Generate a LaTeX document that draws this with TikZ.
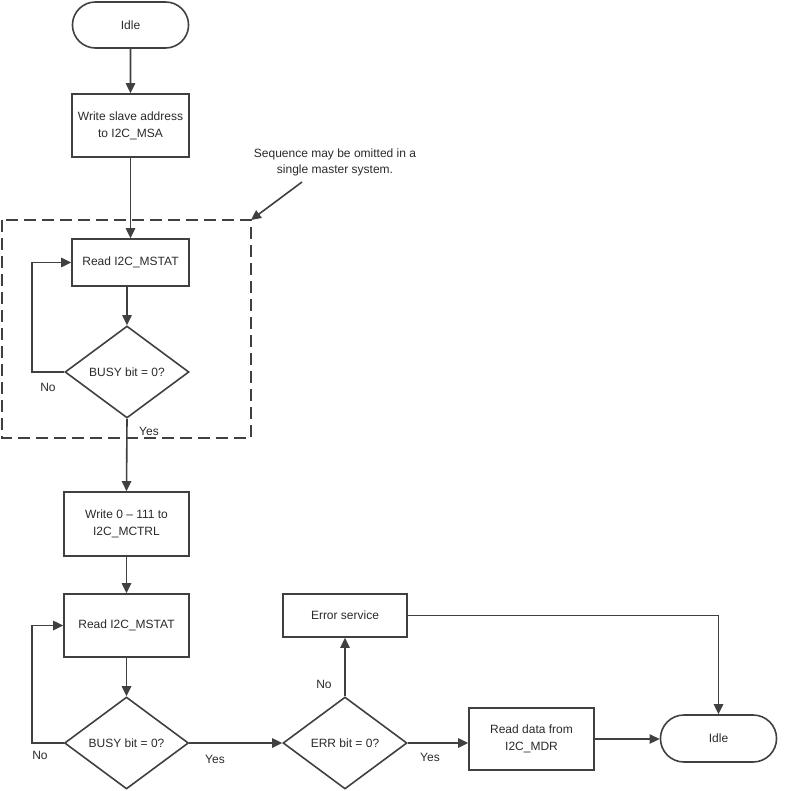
\documentclass[tikz,border=0pt]{standalone}
\usepackage{fontspec}
\setmainfont{Liberation Sans}
\usetikzlibrary{shapes.geometric, shapes.misc, arrows.meta}

\definecolor{linegray}{HTML}{404040}
\definecolor{textgray}{HTML}{2A2A2A}

\begin{document}
\begin{tikzpicture}[
    x=0.75pt, y=-0.75pt,
    font=\fontsize{9}{12.75}\selectfont, text=textgray,
    block/.style={draw=linegray, line width=1.2pt, rectangle, align=center, minimum width=93.75pt, minimum height=47.25pt, inner sep=2pt},
    decision/.style={draw=linegray, line width=1.2pt, diamond, aspect=1.35, minimum width=93pt, minimum height=69pt, inner sep=0pt},
    term/.style={draw=linegray, line width=1.2pt, rounded rectangle, minimum width=93.75pt, minimum height=34.5pt},
    lbl/.style={inner sep=1pt},
    arrow/.style={draw=linegray, line width=1.2pt, -{Triangle[length=7.5pt, width=7pt]}},
    dashedbox/.style={draw=linegray, line width=1.2pt, dash pattern=on 9pt off 4.5pt}
]
\useasboundingbox (0,0) rectangle (784,791);

% first part
\node[term] (idle1) at (130.5,25) {Idle};
\node[block, minimum width=87.75pt] (msa) at (130.5,125.5) {Write slave address\\to I2C\_MSA};
\node[block, minimum width=87.75pt, minimum height=35.25pt] (rd1) at (130.5,262.5) {Read I2C\_MSTAT};
\node[decision] (busy1) at (127,372) {BUSY bit = 0?};

% second part
\node[block, minimum height=48pt] (ctrl) at (126.5,524) {Write 0 -- 111 to\\I2C\_MCTRL};
\node[block] (rd2) at (126.5,625.5) {Read I2C\_MSTAT};
\node[decision] (busy2) at (126.5,743) {BUSY bit = 0?};
\node[decision] (err) at (345,743) {ERR bit = 0?};
\node[block, minimum width=93pt, minimum height=32.25pt] (errsvc) at (345,615.5) {Error service};
\node[block, minimum height=46.5pt] (mdr) at (531.5,739) {Read data from\\I2C\_MDR};
\node[term, minimum height=35.25pt] (idle2) at (718.5,738.5) {Idle};

% note
\node[align=center, font=\fontsize{9}{11.5}\selectfont] (note) at (335,162.5) {Sequence may be omitted in a\\single master system.};
\coordinate (ntail) at (302,182);
\coordinate (dcorner) at (251,220);
\draw[dashedbox] (2,220) rectangle (dcorner |- 0,438);

% labels
\node[lbl] (no1) at (48,387) {No};
\node[lbl] (yes1) at (149,431) {Yes};
\node[lbl] (no2) at (40,755) {No};
\node[lbl] (yes2) at (215,759) {Yes};
\node[lbl] (no3) at (324,684) {No};
\node[lbl] (yes3) at (430,757) {Yes};

% connectors
\draw[arrow] (idle1) -- (msa);
\draw[arrow] (msa) -- (rd1);
\draw[arrow] (busy1.north |- rd1.south) -- (busy1.north);
\draw[arrow] (busy1.west) -- ++(-32,0) |- (rd1.west);
\draw[arrow] (busy1.south) -- (ctrl.north);
\draw[arrow] (ctrl) -- (rd2);
\draw[arrow] (rd2) -- (busy2);
\draw[arrow] (busy2.west) -- ++(-32,0) |- (rd2.west);
\draw[arrow] (busy2.east) -- (err.west);
\draw[arrow] (err.north) -- (errsvc.south);
\draw[arrow] (errsvc.east) -| (idle2.north);
\draw[arrow] (err.east) -- (mdr.west |- err.east);
\draw[arrow] (mdr.east) -- (idle2.west |- mdr.east);
\draw[arrow] (ntail) -- (dcorner);

\end{tikzpicture}
\end{document}
